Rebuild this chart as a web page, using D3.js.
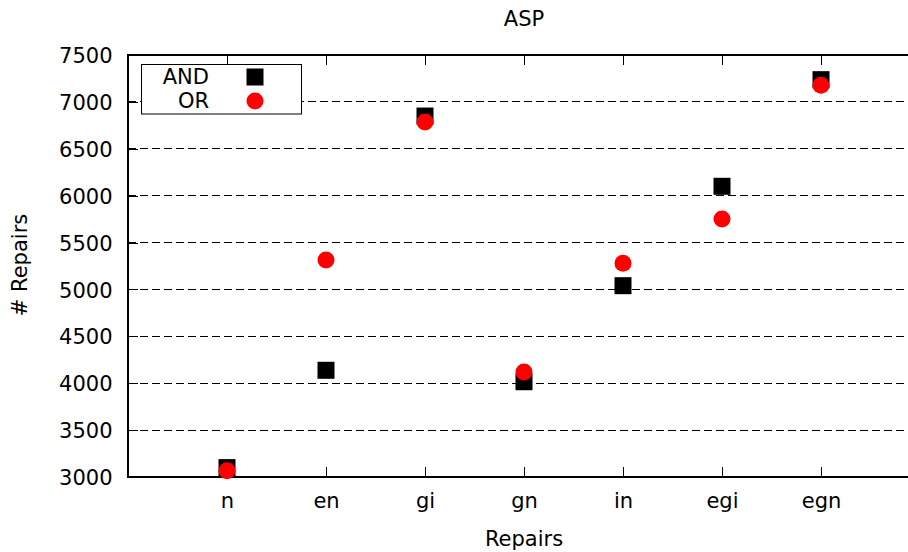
<!DOCTYPE html>
<html><head><meta charset="utf-8">
<script src="https://cdn.jsdelivr.net/npm/d3@7/dist/d3.min.js"></script>
<style>body{margin:0;background:#fff}svg{display:block}text{font-family:"DejaVu Sans",sans-serif}</style>
</head><body>
<script>
const categories = ["n","en","gi","gn","in","egi","egn"];
const andValues = [3100, 4138, 6849, 4016, 5040, 6100, 7237];
const orValues  = [3067, 5314, 6785, 4120, 5279, 5751, 7177];
const yTicks = [3000,3500,4000,4500,5000,5500,6000,6500,7000,7500];

const W = 908, H = 552;
const m = {left:128, top:55, right:920, bottom:477};
const svg = d3.select("body").append("svg").attr("width",W).attr("height",H);
const fs = 21;

const x = d3.scaleLinear().domain([-1, 7]).range([m.left, m.right]);
const y = d3.scaleLinear().domain([3000, 7500]).range([m.bottom, m.top]);

// grid
svg.append("g").selectAll("line").data(yTicks.filter(v=>v>3000 && v<7500)).join("line")
  .attr("x1",m.left).attr("x2",m.right).attr("y1",d=>y(d)).attr("y2",d=>y(d))
  .attr("stroke","#000").attr("stroke-width",1).attr("stroke-dasharray","8,4").attr("shape-rendering","crispEdges");

// axes
const tl = 10;
const yAxis = d3.axisLeft(y).tickValues(yTicks).tickFormat(d3.format("d")).tickSize(-tl).tickPadding(15);
const gy = svg.append("g").attr("transform",`translate(${m.left},0)`).call(yAxis);
const xAxis = d3.axisBottom(x).tickValues(d3.range(categories.length)).tickFormat(i=>categories[i]).tickSize(-tl);
const gx = svg.append("g").attr("transform",`translate(0,${m.bottom})`).call(xAxis);
const xTop = d3.axisTop(x).tickValues(d3.range(categories.length)).tickFormat("").tickSize(-tl);
const gxt = svg.append("g").attr("transform",`translate(0,${m.top})`).call(xTop);
[gy,gx,gxt].forEach(g=>{
  g.select(".domain").remove();
  g.selectAll("line").attr("stroke","#000").attr("shape-rendering","crispEdges");
  g.selectAll("text").attr("font-size",fs).attr("fill","#000").attr("font-family","DejaVu Sans");
});
gy.selectAll("text").attr("x",-15.5).attr("dy","0.36em");
gx.selectAll("text").attr("y",31).attr("dy",0);

// border
svg.append("rect").attr("x",m.left).attr("y",m.top).attr("width",m.right-m.left).attr("height",m.bottom-m.top)
  .attr("fill","none").attr("stroke","#000").attr("stroke-width",1.3).attr("shape-rendering","crispEdges");

// points
const sq = 17;
svg.append("g").selectAll("rect").data(andValues).join("rect")
  .attr("x",(d,i)=>x(i)-sq/2).attr("y",d=>y(d)-sq/2).attr("width",sq).attr("height",sq).attr("fill","#000");
svg.append("g").selectAll("circle").data(orValues).join("circle")
  .attr("cx",(d,i)=>x(i)).attr("cy",d=>y(d)).attr("r",8.5).attr("fill","#ff0000");

// legend
const lg = svg.append("g");
lg.append("rect").attr("x",141.5).attr("y",64.5).attr("width",160).attr("height",49.5)
  .attr("fill","#fff").attr("stroke","#000").attr("stroke-width",1);
lg.append("text").attr("x",209).attr("y",84).attr("text-anchor","end").attr("font-size",fs).text("AND");
lg.append("text").attr("x",209).attr("y",108).attr("text-anchor","end").attr("font-size",fs).text("OR");
lg.append("rect").attr("x",255-sq/2).attr("y",77-sq/2).attr("width",sq).attr("height",sq).attr("fill","#000");
lg.append("circle").attr("cx",255).attr("cy",101).attr("r",8.5).attr("fill","#ff0000");

// titles
svg.append("text").attr("x",524).attr("y",26).attr("text-anchor","middle").attr("font-size",fs).text("ASP");
svg.append("text").attr("x",524).attr("y",546).attr("text-anchor","middle").attr("font-size",fs).text("Repairs");
svg.append("text").attr("transform","translate(27,265) rotate(-90)").attr("text-anchor","middle").attr("font-size",fs).text("# Repairs");
</script>
</body></html>
